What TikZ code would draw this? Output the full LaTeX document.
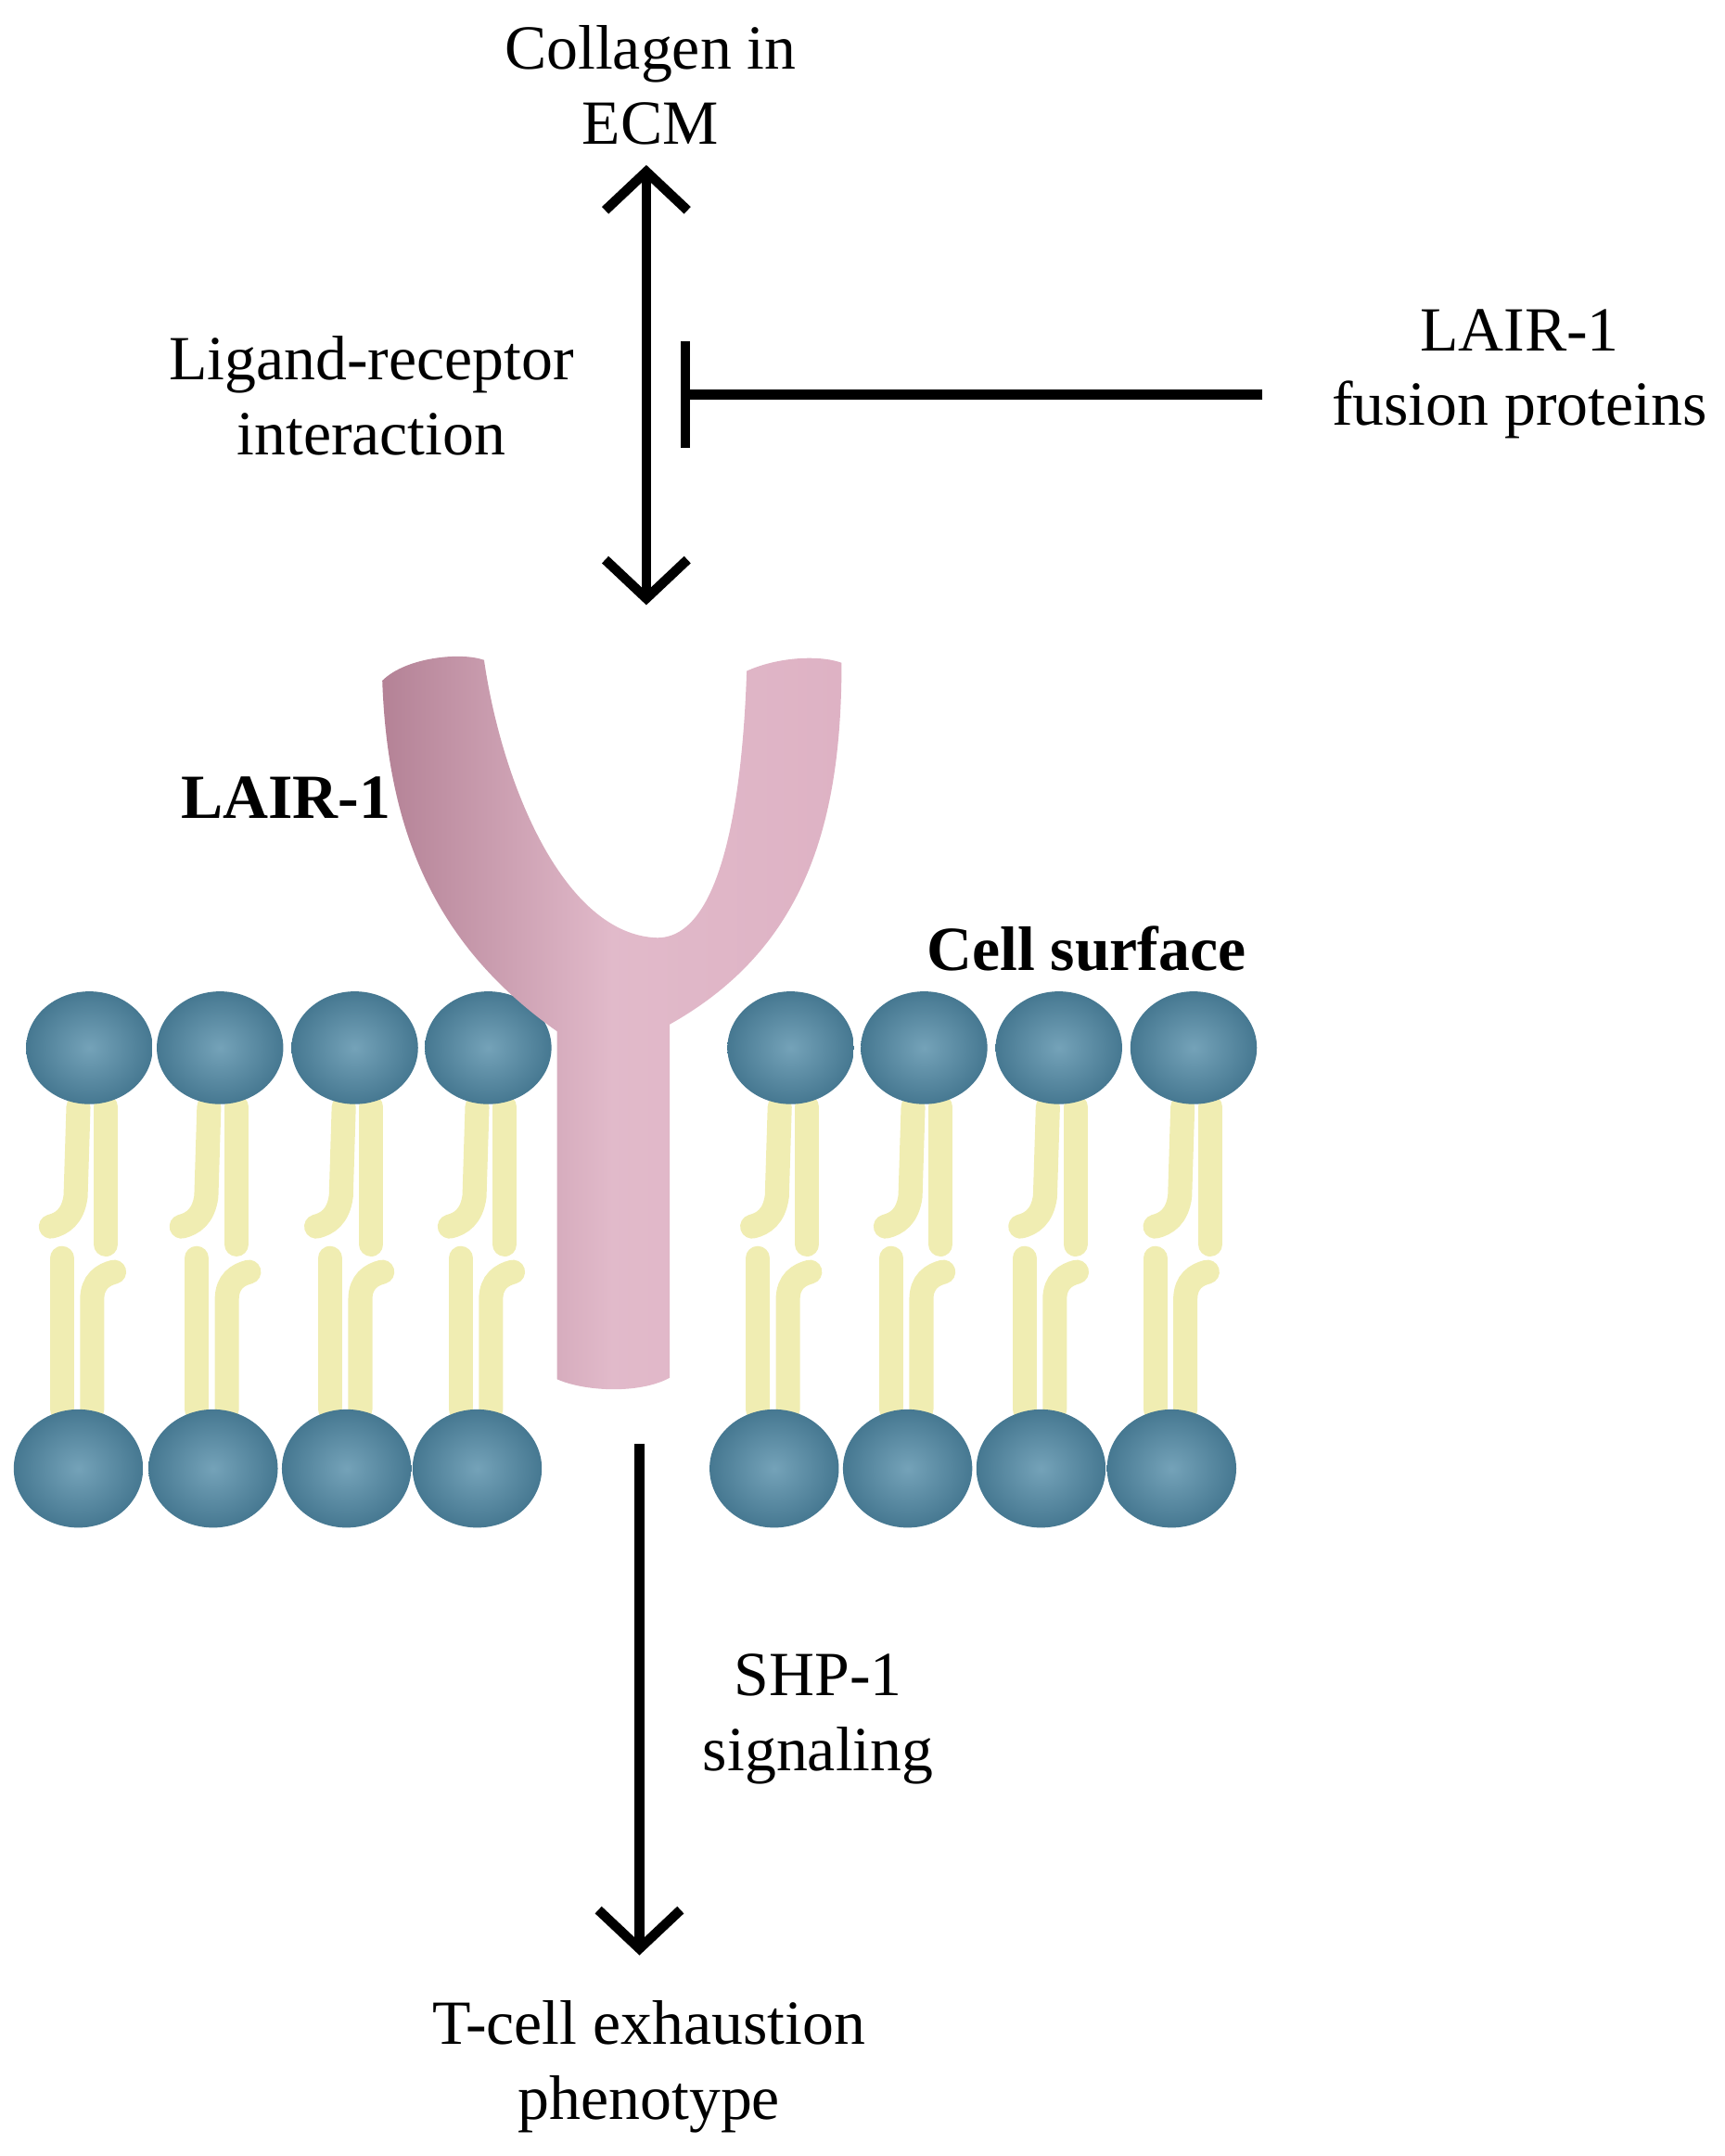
\documentclass[tikz,border=0pt]{standalone}
\usepackage{fontspec}
\setmainfont{Liberation Serif}
\usetikzlibrary{arrows.meta}
\definecolor{head}{RGB}{92,146,172}
\definecolor{headd}{RGB}{70,120,145}
\definecolor{tail}{RGB}{240,237,178}
\definecolor{pinkL}{RGB}{222,178,196}
\definecolor{pinkD}{RGB}{180,130,150}
\begin{document}
\begin{tikzpicture}[x=0.01cm,y=-0.01cm,
  lbl/.style={font=\fontsize{13}{15.5}\selectfont,align=center},
  blbl/.style={font=\fontsize{13}{15.5}\selectfont\bfseries},
  tip/.style={Straight Barb[length=8pt,width=17pt,line width=2pt]},
  arr/.style={line width=2pt,{Straight Barb[length=8pt,width=17pt,line width=2pt]}-{Straight Barb[length=8pt,width=17pt,line width=2pt]}},
  tl/.style={line width=5pt,line cap=round,color=tail},
  hd/.style={inner color=head!85!white,outer color=headd}]
\useasboundingbox (0,0) rectangle (1254,1568);
% texts
\node[lbl] (ecm) at (473,62) {Collagen in\\ECM};
\node[lbl] (lig) at (270,288) {Ligand-receptor\\interaction};
\node[lbl] (fus) at (1105,272) {LAIR-1\\fusion proteins};
\node[blbl] (lair) at (208,580) {LAIR-1};
\node[blbl] (cell) at (790,690) {Cell surface};
\node[lbl] (shp) at (595,1250) {SHP-1\\signaling};
\node[lbl] (tce) at (472,1503) {T-cell exhaustion\\phenotype};
% coordinates
\coordinate (a1) at (470,120);
\coordinate (a2) at (470,440);
\coordinate (ib) at (495,287);
\coordinate (b1) at (465,1050);
\coordinate (b2) at (465,1422);
% lipid tails
\foreach \x in {65,160,258,355,575,672,770,868}{
  \draw[tl] (\x-8,805) -- (\x-10,870) .. controls (\x-12,885) and (\x-20,890) .. (\x-28,892);
  \draw[tl] (\x+12,805) -- (\x+12,905);
}
\foreach \x in {57,155,252,347,563,660,757,852}{
  \draw[tl] (\x-12,1025) -- (\x-12,915);
  \draw[tl] (\x+10,1025) -- (\x+10,945) .. controls (\x+10,932) and (\x+18,927) .. (\x+26,925);
}
% heads
\foreach \x in {65,160,258,355,575,672,770,868}{
  \shade[hd] (\x,762) ellipse [x radius=46,y radius=41];
}
\foreach \x in {57,155,252,347,563,660,757,852}{
  \shade[hd] (\x,1068) ellipse [x radius=47,y radius=43];
}
% receptor
\shade[left color=pinkD,right color=pinkL,middle color=pinkL!90!white]
  (278,495) .. controls (295,478) and (335,474) .. (352,480)
  .. controls (365,570) and (410,680) .. (478,682)
  .. controls (525,682) and (540,580) .. (543,488)
  .. controls (565,478) and (595,476) .. (612,482)
  .. controls (612,600) and (585,690) .. (487,745)
  -- (487,1002) .. controls (465,1014) and (425,1012) .. (405,1003)
  -- (405,750) .. controls (320,690) and (282,610) .. (278,495) -- cycle;
% arrows
\draw[arr] (a1) -- (a2);
\draw[line width=2pt,-{Straight Barb[length=8pt,width=17pt,line width=2pt]}] (b1) -- (b2);
\draw[line width=2pt,-{Bar[width=22pt,line width=2pt]}] (fus.west) ++(-38,15) coordinate (fs) (fs) -- (ib);
\end{tikzpicture}
\end{document}
